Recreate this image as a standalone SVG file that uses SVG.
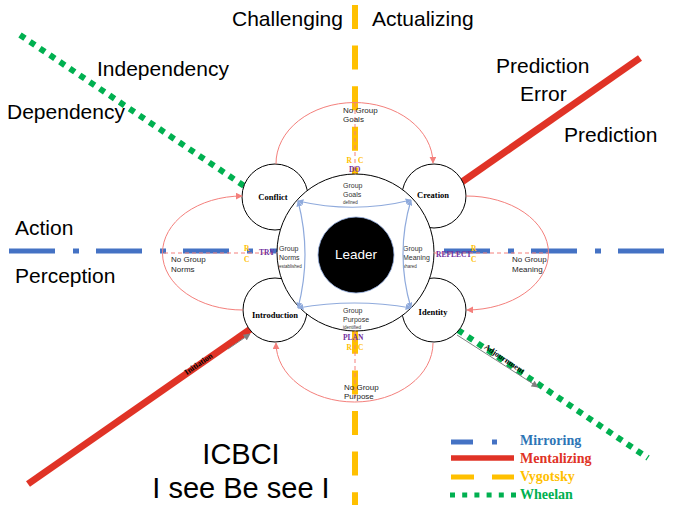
<svg xmlns="http://www.w3.org/2000/svg" width="682" height="505" viewBox="0 0 682 505">
  <style>
    .big { font-family: "Liberation Sans", Arial, sans-serif; font-size: 21px; fill: #000; }
    .huge { font-family: "Liberation Sans", Arial, sans-serif; font-size: 29px; fill: #000; text-anchor: middle; }
    .node { fill: #fff; stroke: #000; stroke-width: 1; }
    .lbl { font-family: "Liberation Serif", "Times New Roman", serif; font-weight: bold; font-size: 8.5px; fill: #000; text-anchor: middle; }
    .inner { font-family: "Liberation Sans", Arial, sans-serif; font-size: 7px; fill: #333; }
    .tiny { font-family: "Liberation Sans", Arial, sans-serif; font-size: 4.5px; fill: #333; }
    .nog { font-family: "Liberation Sans", Arial, sans-serif; font-size: 8px; fill: #262626; }
    .rc { font-family: "Liberation Serif", serif; font-weight: bold; font-size: 7.5px; fill: #ffc000; }
    .verb { font-family: "Liberation Serif", serif; font-weight: bold; font-size: 7.5px; fill: #7030a0; }
    .stage { font-family: "Liberation Serif", serif; font-weight: bold; font-size: 8px; fill: #000; text-anchor: middle; }
    .leg { font-family: "Liberation Serif", "Times New Roman", serif; font-weight: bold; font-size: 14px; }
    .cycle { fill: none; stroke: #f4807c; stroke-width: 1; }
    .link { fill: none; stroke: #8faadc; stroke-width: 1.2; }
    .gap { fill: none; stroke: #f4807c; stroke-width: 1; stroke-dasharray: 4 3; }
  </style>
  <defs>
    <marker id="pinkHead" viewBox="0 0 10 10" refX="9" refY="5" markerWidth="7" markerHeight="7" orient="auto" markerUnits="userSpaceOnUse">
      <path d="M0,0 L10,5 L0,10 z" fill="#f4807c"/>
    </marker>
    <marker id="blueHead" viewBox="0 0 10 10" refX="9" refY="5" markerWidth="6" markerHeight="6" orient="auto-start-reverse" markerUnits="userSpaceOnUse">
      <path d="M0,0 L10,5 L0,10 z" fill="#8faadc"/>
    </marker>
    <marker id="grayHead" viewBox="0 0 10 10" refX="9" refY="5" markerWidth="7" markerHeight="7" orient="auto" markerUnits="userSpaceOnUse">
      <path d="M0,0 L10,5 L0,10 z" fill="#808080"/>
    </marker>
  </defs>

  <!-- Axis lines -->
  <g id="axes">
    <line id="mentalizing-axis" x1="28" y1="484" x2="640" y2="58" stroke="#e03326" stroke-width="7"/>
    <line id="wheelan-axis" x1="20" y1="35" x2="648" y2="458" stroke="#00b050" stroke-width="6" stroke-dasharray="6 6"/>
    <line id="mirroring-axis" x1="9" y1="251" x2="665" y2="251" stroke="#4472c4" stroke-width="5" stroke-dasharray="46 18 6 17"/>
    <line id="vygotsky-axis" x1="355" y1="5" x2="355" y2="505" stroke="#ffc000" stroke-width="6" stroke-dasharray="24 16.6"/>
  </g>

  <!-- Axis pole labels -->
  <g id="poles">
    <text class="big" x="232" y="26">Challenging</text>
    <text class="big" x="372" y="26">Actualizing</text>
    <text class="big" x="97" y="76">Independency</text>
    <text class="big" x="7" y="119">Dependency</text>
    <text class="big" x="496" y="73">Prediction</text>
    <text class="big" x="520" y="101">Error</text>
    <text class="big" x="564" y="142">Prediction</text>
    <text class="big" x="15" y="235">Action</text>
    <text class="big" x="15" y="283">Perception</text>
  </g>

  <!-- Stage nodes -->
  <g id="conflict"><circle class="node" cx="275" cy="197" r="33"/><text class="lbl" x="273" y="200">Conflict</text></g>
  <g id="creation"><circle class="node" cx="434" cy="196" r="32"/><text class="lbl" x="433" y="198">Creation</text></g>
  <g id="introduction"><circle class="node" cx="275" cy="310" r="32"/><text class="lbl" x="275" y="318">Introduction</text></g>
  <g id="identity"><circle class="node" cx="434" cy="310" r="32"/><text class="lbl" x="433" y="315">Identity</text></g>

  <!-- Group core -->
  <g id="group">
    <circle class="node" cx="355.5" cy="252.5" r="78.5"/>
    <text class="inner" x="343" y="188">Group</text>
    <text class="inner" x="343" y="197">Goals</text>
    <text class="tiny" x="343" y="204">defined</text>
    <text class="inner" x="279" y="251">Group</text>
    <text class="inner" x="279" y="260">Norms</text>
    <text class="tiny" x="279" y="268">established</text>
    <text class="inner" x="403" y="251">Group</text>
    <text class="inner" x="403" y="260">Meaning</text>
    <text class="tiny" x="403" y="268">shared</text>
    <text class="inner" x="343" y="313">Group</text>
    <text class="inner" x="343" y="322">Purpose</text>
    <text class="tiny" x="343" y="329">identified</text>
  </g>

  <g id="leader">
    <circle cx="356" cy="255" r="38" fill="#000" stroke="#8faadc" stroke-width="0.8"/>
    <text x="356" y="259" font-family="'Liberation Sans', Arial, sans-serif" font-size="13.5" fill="#fff" text-anchor="middle">Leader</text>
  </g>

  <!-- Connectors -->
  <g id="connectors">
    <path class="link" d="M298,201 Q354.5,214 411,200" marker-start="url(#blueHead)" marker-end="url(#blueHead)"/>
    <path class="link" d="M298,201 Q312,254.5 298,308" marker-start="url(#blueHead)" marker-end="url(#blueHead)"/>
    <path class="link" d="M411,200 Q395,254 411,308" marker-start="url(#blueHead)" marker-end="url(#blueHead)"/>
    <path class="link" d="M298,308 Q354.5,298 411,308" marker-start="url(#blueHead)" marker-end="url(#blueHead)"/>

    <path class="cycle" d="M276,164 A78.5,61 0 0 1 433,163" marker-end="url(#pinkHead)"/>
    <path class="cycle" d="M466,196 A82,57 0 0 1 467,310" marker-end="url(#pinkHead)"/>
    <path class="cycle" d="M433,343 A78.5,59 0 0 1 276,343" marker-end="url(#pinkHead)"/>
    <path class="cycle" d="M243,310 A80,57 0 0 1 242,196" marker-end="url(#pinkHead)"/>

    <line class="gap" x1="355" y1="103" x2="355" y2="174"/>
    <line class="gap" x1="355" y1="331" x2="355" y2="401"/>
    <line class="gap" x1="164" y1="253" x2="277" y2="253"/>
    <line class="gap" x1="434" y1="253" x2="548" y2="253"/>

    <line x1="228" y1="349" x2="250" y2="334" stroke="#808080" stroke-width="1" marker-end="url(#grayHead)"/>
    <line x1="457" y1="335" x2="538" y2="387" stroke="#808080" stroke-width="1" marker-end="url(#grayHead)"/>
    <text class="stage" transform="translate(200,366) rotate(-34.8)">Initiation</text>
    <text class="stage" transform="translate(503,361) rotate(34)">Adjournment</text>
  </g>

  <!-- Transition labels -->
  <g id="transitions">
    <text class="nog" x="343" y="113">No Group</text>
    <text class="nog" x="343" y="122">Goals</text>
    <text class="rc" x="346.5" y="163">R</text>
    <text class="rc" x="358" y="163">C</text>
    <text class="verb" x="349" y="172">DO</text>

    <text class="nog" x="171" y="262">No Group</text>
    <text class="nog" x="171" y="272">Norms</text>
    <text class="rc" x="244" y="251">R</text>
    <text class="rc" x="244" y="262">C</text>
    <text class="verb" x="259" y="255">TRY</text>

    <text class="nog" x="512" y="262">No Group</text>
    <text class="nog" x="512" y="272">Meaning</text>
    <text class="verb" x="436" y="257">REFLECT</text>
    <text class="rc" x="471" y="251">R</text>
    <text class="rc" x="471" y="262">C</text>

    <text class="verb" x="343" y="340" font-size="7">PLAN</text>
    <text class="rc" x="346.5" y="350" font-size="7">R</text>
    <text class="rc" x="358" y="350" font-size="7">C</text>
    <text class="nog" x="344" y="390">No Group</text>
    <text class="nog" x="344" y="399">Purpose</text>
  </g>

  <!-- Title -->
  <g id="title">
    <text class="huge" x="241" y="464">ICBCI</text>
    <text class="huge" x="241" y="497.5">I see Be see I</text>
  </g>

  <!-- Legend -->
  <g id="legend">
    <line x1="451" y1="442" x2="497" y2="442" stroke="#4472c4" stroke-width="5" stroke-dasharray="22 19 5 10"/>
    <line x1="451" y1="458" x2="514" y2="458" stroke="#e03326" stroke-width="5.5"/>
    <line x1="451" y1="477" x2="514" y2="477" stroke="#ffc000" stroke-width="5" stroke-dasharray="23 18"/>
    <line x1="450" y1="495" x2="516" y2="495" stroke="#00b050" stroke-width="5" stroke-dasharray="5 7.2"/>
    <text class="leg" x="520" y="445" fill="#2e75b6">Mirroring</text>
    <text class="leg" x="520" y="463" fill="#e03326">Mentalizing</text>
    <text class="leg" x="520" y="481" fill="#ffc000">Vygotsky</text>
    <text class="leg" x="520" y="499" fill="#00b050">Wheelan</text>
  </g>
</svg>
